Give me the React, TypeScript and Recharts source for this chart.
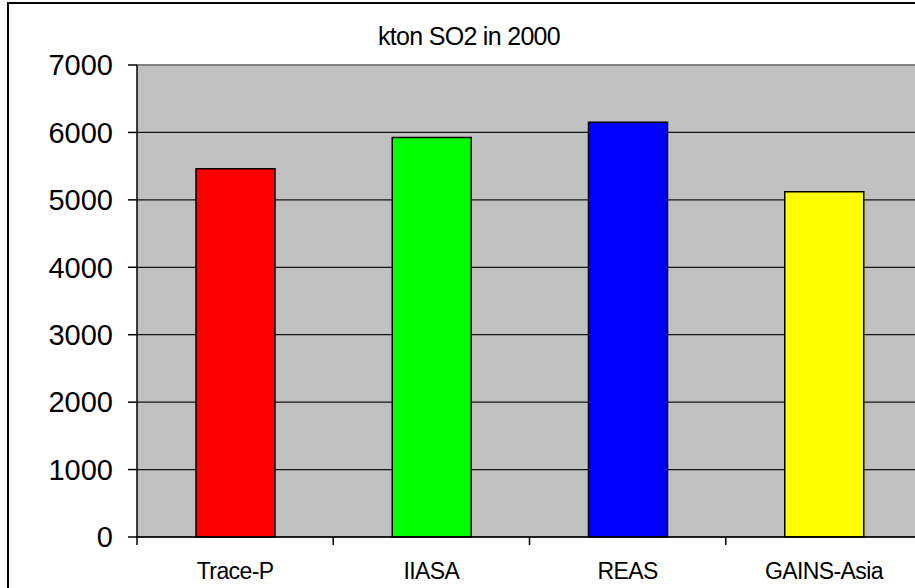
import { BarChart, Bar, XAxis, YAxis, CartesianGrid, Cell, ReferenceLine } from 'recharts'

const categories = ['Trace-P', 'IIASA', 'REAS', 'GAINS-Asia']
const so2Values = [5460, 5925, 6150, 5120]
const barColors = ['#FF0000', '#00FF00', '#0000FF', '#FFFF00']
const yTicks = [0, 1000, 2000, 3000, 4000, 5000, 6000, 7000]

const data = categories.map((name, i) => ({ name, kton: so2Values[i] }))

const font = '"Liberation Sans", Arial, sans-serif'

function CategoryTick(props: any) {
  const { x, y, payload, index } = props
  const half = payload?.offset ?? 98
  return (
    <g>
      <line x1={x - half} y1={y} x2={x - half} y2={y + 8} stroke="#000" strokeWidth={1.5} />
      {index === categories.length - 1 && (
        <line x1={x + half} y1={y} x2={x + half} y2={y + 8} stroke="#000" strokeWidth={1.5} />
      )}
      <text x={x} y={y + 42} textAnchor="middle" fontSize={23} letterSpacing={-0.6} fill="#000" fontFamily={font}>
        {payload.value}
      </text>
    </g>
  )
}

export default function App() {
  return (
    <div
      style={{
        position: 'fixed',
        left: 0,
        top: 0,
        width: 915,
        height: 588,
        overflow: 'hidden',
        background: '#fff',
        fontFamily: font,
      }}
    >
      <div
        style={{
          position: 'absolute',
          left: 7,
          top: 2,
          width: 920,
          height: 600,
          borderTop: '2px solid #000',
          borderLeft: '2px solid #000',
        }}
      >
        <div
          style={{
            position: 'absolute',
            left: 0,
            top: 20,
            width: 920,
            textAlign: 'center',
            fontSize: 25,
            lineHeight: '25px',
            letterSpacing: -0.7,
            color: '#000',
          }}
        >
          kton SO2 in 2000
        </div>
        <BarChart width={920} height={600} data={data} margin={{ top: 61, right: 7, left: 0, bottom: 0 }}>
          <CartesianGrid vertical={false} fill="#C0C0C0" stroke="#000" strokeWidth={1.2} strokeOpacity={0.9} />
          <ReferenceLine y={7000} stroke="#808080" strokeWidth={2} />
          <XAxis
            dataKey="name"
            height={67}
            tickSize={0}
            tickMargin={0}
            tickLine={false}
            axisLine={{ stroke: '#000', strokeWidth: 1.5 }}
            tick={<CategoryTick />}
            interval={0}
          />
          <YAxis
            width={128}
            domain={[0, 7000]}
            ticks={yTicks}
            interval={0}
            tickSize={9}
            tickMargin={15}
            axisLine={{ stroke: '#000', strokeWidth: 1.5 }}
            tickLine={{ stroke: '#000', strokeWidth: 1.5 }}
            tick={{ fontSize: 29, fill: '#000', fontFamily: font }}
          />
          <Bar dataKey="kton" barSize={79} stroke="#000" strokeWidth={1.5} isAnimationActive={false}>
            {data.map((d, i) => (
              <Cell key={d.name} fill={barColors[i]} />
            ))}
          </Bar>
        </BarChart>
      </div>
    </div>
  )
}
